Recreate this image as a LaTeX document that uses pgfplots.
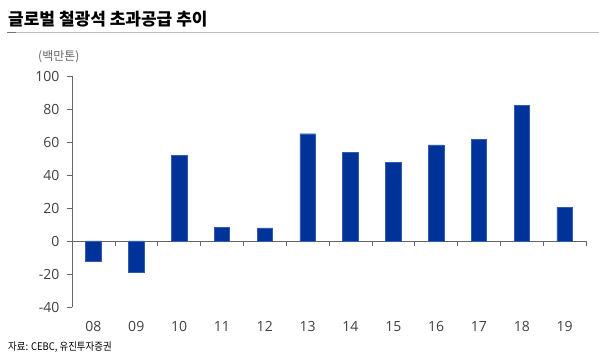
\documentclass[border=0pt]{standalone}
\usepackage{pgfplots}
\pgfplotsset{compat=1.18}
\usepackage{fontspec}
\setmainfont{Open Sans}
\newfontfamily\kr{Noto Sans CJK KR}
\definecolor{barblue}{RGB}{0,51,153}
\definecolor{txt}{RGB}{64,64,64}
\begin{document}
\begin{tikzpicture}
\path[use as bounding box] (0,0) rectangle (599bp,363bp);
\node[anchor=base west, inner sep=0pt] at (8bp,337bp) {\kr\fontsize{17bp}{18bp}\selectfont\bfseries 글로벌 철광석 초과공급 추이};
\draw[black!25, line width=0.9bp] (7bp,331bp) -- (599bp,331bp);
\draw[black!55, line width=0.9bp] (7bp,331bp) -- (16bp,331bp);
\node[anchor=west, inner sep=0pt, text=black!60] at (38bp,306bp) {\kr\fontsize{12bp}{14bp}\selectfont (백만톤)};
\node[anchor=west, inner sep=0pt, text=black] at (8bp,16bp) {\kr\fontsize{10.5bp}{12bp}\selectfont\addfontfeature{FakeStretch=0.9}자료: CEBC, 유진투자증권};
\begin{axis}[
  at={(72bp,56bp)}, anchor=south west,
  scale only axis, width=514bp, height=231bp,
  xmin=-0.5, xmax=11.5, ymin=-40, ymax=100,
  axis y line*=left, axis x line*=middle,
  axis line style={black!60, line width=0.6bp},
  ytick={-40,-20,...,100},
  xtick={0,...,11},
  xticklabels={08,09,10,11,12,13,14,15,16,17,18,19},
  minor xtick={0.5,1.5,...,11.5},
  major x tick style={draw=none},
  minor x tick style={black!60, line width=0.6bp},
  y tick style={black!60, line width=0.6bp},
  tick align=outside,
  major tick length=5bp, minor tick length=5bp,
  /pgf/number format/assume math mode=true,
  ticklabel style={font=\fontsize{14bp}{16bp}\selectfont, text=txt},
  xticklabel style={yshift=-72bp},
  yticklabel style={xshift=-4bp},
  ybar, bar width=15.5bp, bar shift=0pt,
]
\addplot[fill=barblue, draw=barblue!80] coordinates {
(0,-12) (1,-19) (2,52) (3,8.2) (4,8) (5,65) (6,53.6) (7,47.7) (8,58.2) (9,61.4) (10,82.4) (11,20.6)};
\end{axis}
\end{tikzpicture}
\end{document}
